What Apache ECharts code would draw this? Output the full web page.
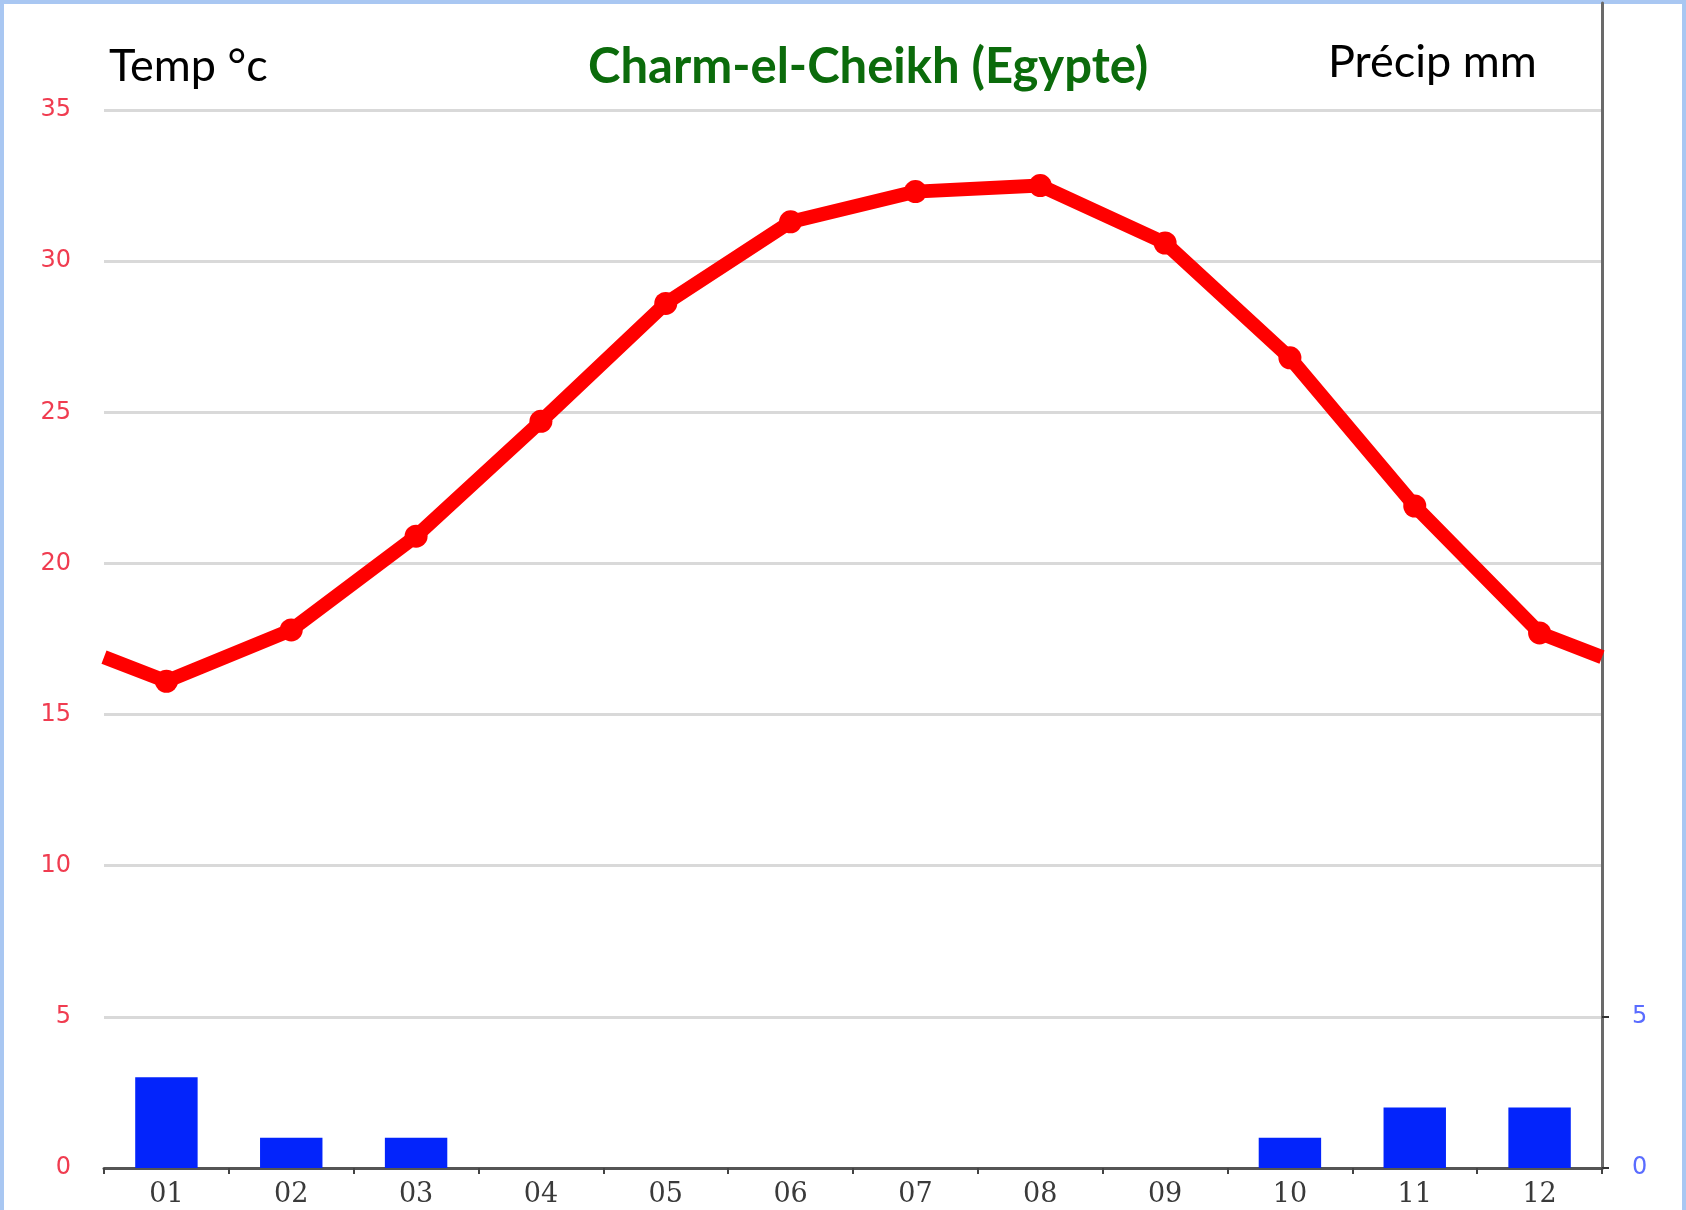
<!DOCTYPE html>
<html>
<head>
<meta charset="utf-8">
<script src="https://cdn.jsdelivr.net/npm/echarts@6/dist/echarts.min.js"></script>
<style>
html,body{margin:0;padding:0;background:#fff;}
#frame{position:absolute;left:0;top:0;width:1686px;height:1210px;box-sizing:border-box;border-top:4px solid #a9c7f2;border-left:4px solid #a9c7f2;border-right:4px solid #a9c7f2;background:#fff;}
#chart{position:absolute;left:0;top:0;width:1686px;height:1210px;}
</style>
</head>
<body>
<div id="frame"></div>
<div id="chart"></div>
<script>
const months = ['01','02','03','04','05','06','07','08','09','10','11','12'];
const temperature = [16.1, 17.8, 20.9, 24.7, 28.6, 31.3, 32.3, 32.5, 30.6, 26.8, 21.9, 17.7];
const precipitation = [3, 1, 1, 0, 0, 0, 0, 0, 0, 1, 2, 2];
const tempEdges = [16.9, 16.9]; // line value at left and right plot edges
const tempTicks = [0, 5, 10, 15, 20, 25, 30, 35];
const precipTicks = [0, 5];

const lineData = [{value: [0, tempEdges[0]], symbol: 'none'}];
temperature.forEach((t, i) => lineData.push({value: [i + 0.5, t]}));
lineData.push({value: [months.length, tempEdges[1]], symbol: 'none'});

const chart = echarts.init(document.getElementById('chart'), null, {renderer: 'canvas'});
chart.setOption({
  backgroundColor: 'transparent',
  animation: false,
  title: [
    {text: 'Temp °c', left: 109, top: 44, padding: 0,
     textStyle: {fontFamily: 'Lato', fontWeight: 'normal', fontSize: 45, color: '#000'}},
    {text: 'Charm-el-Cheikh (Egypte)', left: 588, top: 43, padding: 0,
     textStyle: {fontFamily: 'Lato', fontWeight: 'bold', fontSize: 49, color: '#0b6b0b'}},
    {text: 'Précip mm', left: 1328, top: 40, padding: 0,
     textStyle: {fontFamily: 'Lato', fontWeight: 'normal', fontSize: 45, color: '#000'}}
  ],
  grid: [
    {left: 104, right: 84, top: 110, bottom: 42},
    {left: 104, right: 84, top: 3, bottom: 42}
  ],
  xAxis: [
    {type: 'category', gridIndex: 0, data: months, boundaryGap: true,
     axisLine: {show: true, lineStyle: {color: '#555', width: 3}},
     axisTick: {show: true, length: 6, lineStyle: {color: '#444', width: 2}},
     axisLabel: {color: '#3a3a3a', fontFamily: 'DejaVu Serif', fontSize: 27, margin: 13},
     splitLine: {show: false}},
    {type: 'value', gridIndex: 0, min: 0, max: months.length, show: false},
    {type: 'value', gridIndex: 1, min: 0, max: 1, show: false}
  ],
  yAxis: [
    {type: 'value', gridIndex: 0, position: 'left', min: 0, max: 35, interval: 5,
     axisLine: {show: false}, axisTick: {show: false},
     axisLabel: {color: '#f03c50', fontFamily: 'DejaVu Sans', fontSize: 24, margin: 33,
                 customValues: tempTicks},
     splitLine: {show: true, lineStyle: {color: '#d9d9d9', width: 3}}},
    {type: 'value', gridIndex: 0, position: 'right', min: 0, max: 35, interval: 5,
     axisLine: {show: false},
     axisTick: {show: true, length: 7, customValues: precipTicks, lineStyle: {color: '#333', width: 2}},
     axisLabel: {color: '#5a6cff', fontFamily: 'DejaVu Sans', fontSize: 24, margin: 30,
                 customValues: precipTicks},
     splitLine: {show: false}},
    {type: 'value', gridIndex: 1, position: 'right', min: 0, max: 1,
     axisLine: {show: true, onZero: false, lineStyle: {color: '#6a6a6a', width: 3}},
     axisTick: {show: false}, axisLabel: {show: false}, splitLine: {show: false}}
  ],
  series: [
    {type: 'bar', xAxisIndex: 0, yAxisIndex: 1, data: precipitation, barWidth: '50%',
     itemStyle: {color: '#0324fb'}, z: 2},
    {type: 'line', xAxisIndex: 1, yAxisIndex: 0, data: lineData,
     symbol: 'circle', symbolSize: 23,
     lineStyle: {color: '#ff0000', width: 14},
     itemStyle: {color: '#ff0000'}, z: 3}
  ]
});
</script>
</body>
</html>
